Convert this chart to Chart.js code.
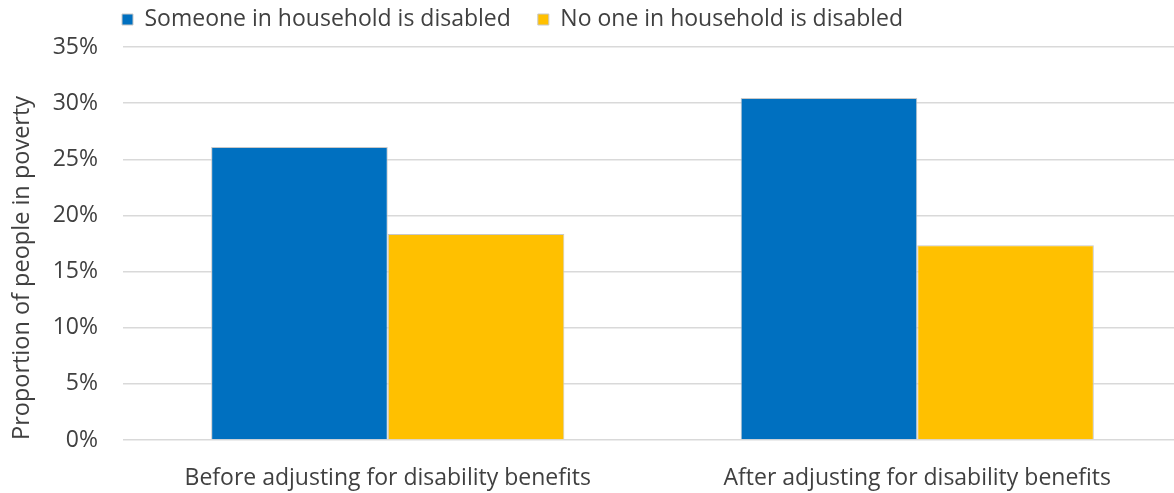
<!DOCTYPE html>
<html>
<head>
<meta charset="utf-8">
<script src="https://cdn.jsdelivr.net/npm/chart.js@4/dist/chart.umd.min.js"></script>
<style>
  html, body { margin: 0; padding: 0; background: #fff; overflow: hidden; }
  .chart-container { position: relative; width: 1182px; height: 493px; }
</style>
</head>
<body>
<div class="chart-container">
  <canvas id="povertyChart" aria-label="Bar Chart"></canvas>
</div>
<script>
// values
const categories = ['Before adjusting for disability benefits', 'After adjusting for disability benefits'];
const someoneDisabled = [26.1, 30.45];
const noOneDisabled = [18.35, 17.35];
const yTicks = [0, 5, 10, 15, 20, 25, 30, 35];

const textColour = '#404040';
const fontFamily = "'Open Sans', 'Noto Sans', sans-serif";

// nudge the legend to sit above the plot like the original
const legendShift = {
  id: 'legendShift',
  afterLayout(chart) {
    const lg = chart.legend;
    lg.left += 95;
    lg.right += 95;
    lg.top = -19;
  }
};

const ctx = document.getElementById('povertyChart');
new Chart(ctx, {
  type: 'bar',
  data: {
    labels: categories,
    datasets: [
      {
        label: 'Someone in household is disabled',
        data: someoneDisabled,
        backgroundColor: '#0070C0',
        borderColor: '#c8c8c8',
        borderWidth: 1,
        borderSkipped: 'bottom'
      },
      {
        label: 'No one in household is disabled',
        data: noOneDisabled,
        backgroundColor: '#FFC000',
        borderColor: '#c8c8c8',
        borderWidth: 1,
        borderSkipped: 'bottom'
      }
    ]
  },
  plugins: [legendShift],
  options: {
    responsive: true,
    maintainAspectRatio: false,
    animation: false,
    categoryPercentage: 0.667,
    barPercentage: 1,
    layout: {
      padding: { top: 0, left: 0, right: 0, bottom: 0 }
    },
    plugins: {
      legend: {
        display: true,
        position: 'top',
        align: 'start',
        maxHeight: 47,
        labels: {
          boxWidth: 11,
          boxHeight: 11,
          padding: 27,
          color: textColour,
          font: { family: fontFamily, size: 23 }
        }
      },
      tooltip: { enabled: false }
    },
    scales: {
      x: {
        grid: { display: false },
        border: { display: false },
        afterFit: (scale) => {
          scale.height = 53;
        },
        ticks: {
          color: textColour,
          padding: 17,
          maxRotation: 0,
          minRotation: 0,
          font: { family: fontFamily, size: 23 }
        }
      },
      y: {
        min: 0,
        max: 35,
        afterBuildTicks: (scale) => {
          scale.ticks = yTicks.map(v => ({ value: v }));
        },
        afterFit: (scale) => {
          scale.width = 123;
        },
        grid: {
          color: '#d9d9d9',
          lineWidth: 1.5,
          drawTicks: false
        },
        border: { display: false },
        ticks: {
          color: textColour,
          padding: 25,
          font: { family: fontFamily, size: 23 },
          callback: (v) => v + '%'
        },
        title: {
          display: true,
          text: 'Proportion of people in poverty',
          align: 'start',
          color: textColour,
          padding: { top: 8, bottom: 0 },
          font: { family: fontFamily, size: 23.5 }
        }
      }
    }
  }
});
</script>
</body>
</html>
